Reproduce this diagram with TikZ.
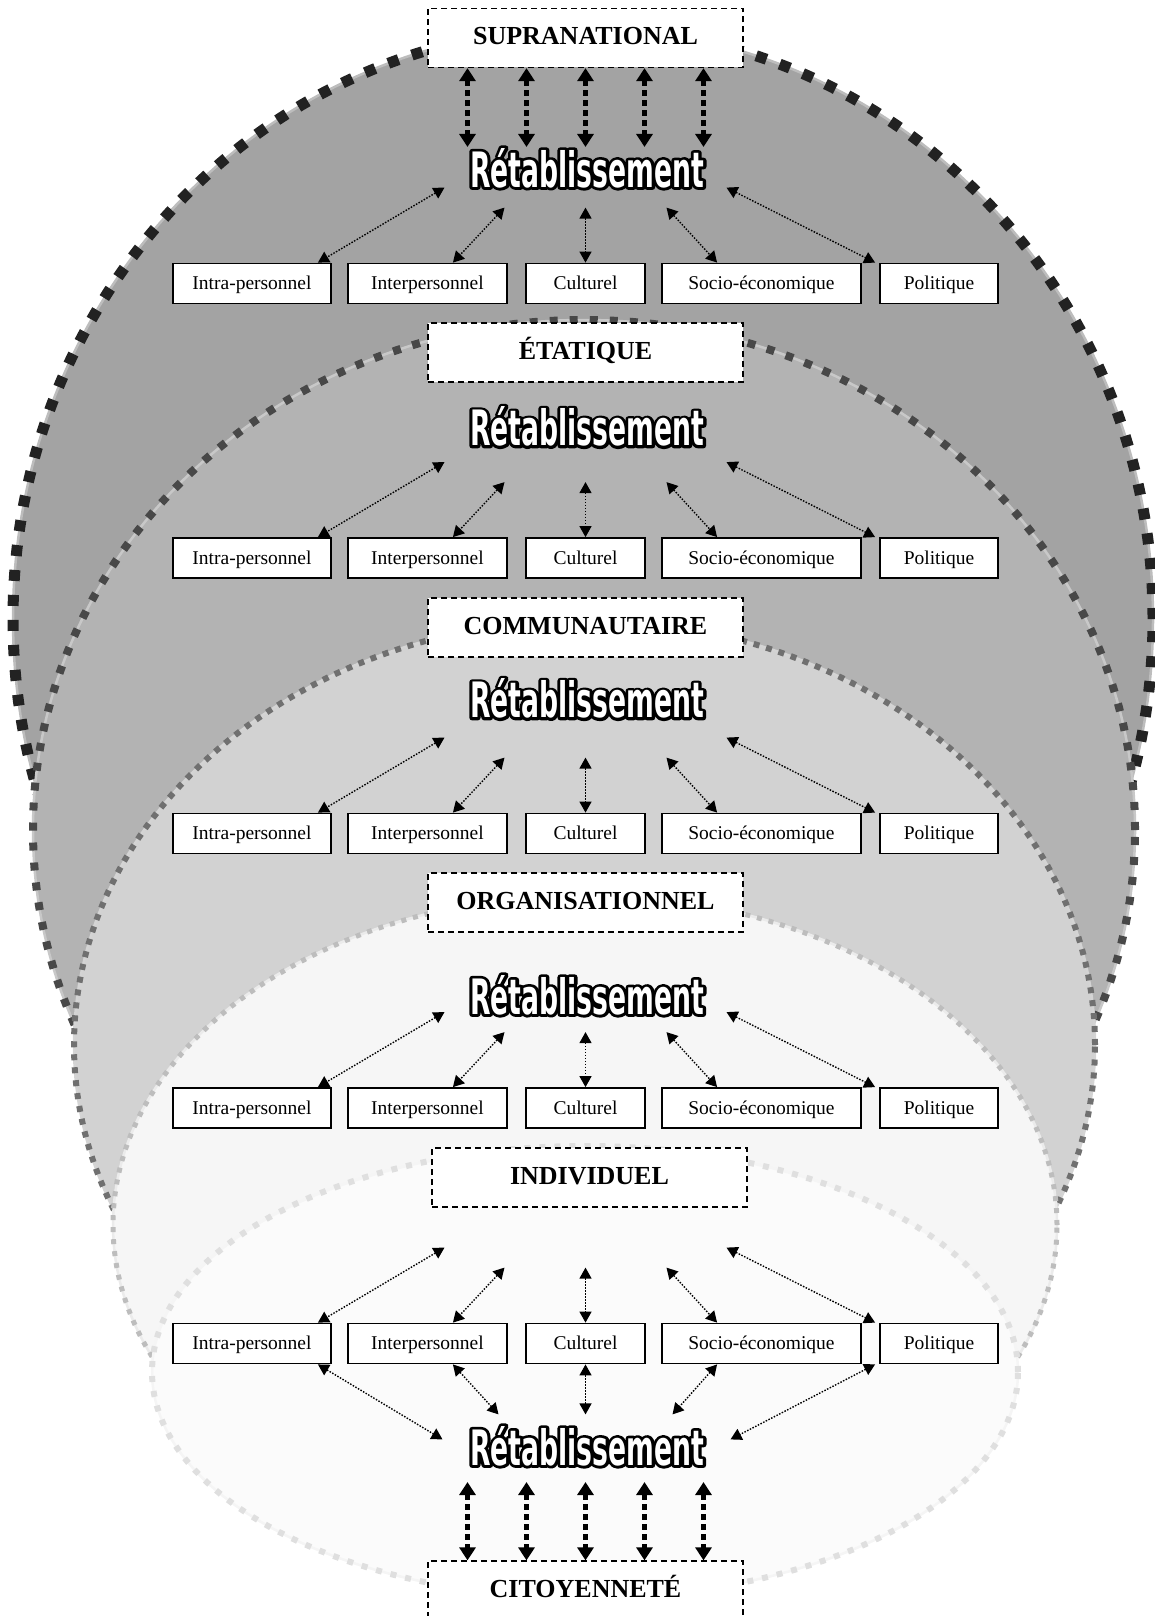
\documentclass[tikz,border=0pt]{standalone}
\usepackage{fontspec}
\setmainfont{Liberation Serif}
\newfontfamily\retfont{DejaVu Sans Condensed Bold}[FakeStretch=0.55]
\usetikzlibrary{arrows.meta}

\definecolor{shellA}{HTML}{A3A3A3}
\definecolor{shellB}{HTML}{B3B3B3}
\definecolor{shellC}{HTML}{D2D2D2}
\definecolor{shellD}{HTML}{F6F6F6}
\definecolor{shellE}{HTML}{FBFBFB}
\definecolor{edgeA}{HTML}{222222}
\definecolor{edgeB}{HTML}{484848}
\definecolor{edgeC}{HTML}{707070}
\definecolor{edgeD}{HTML}{BDBDBD}
\definecolor{edgeE}{HTML}{DFDFDF}

% white letters over a black outline
\newcommand{\retab}{\resizebox{234pt}{39pt}{\fontsize{52}{52}\retfont
  \rlap{\special{pdf:literal direct q 0 G 1 Tr 6 w 1 j}Rétablissement\special{pdf:literal direct Q}}%
  \textcolor{white}{Rétablissement}}}

\begin{document}
\begin{tikzpicture}[x=1pt,y=-1pt,
    level/.style={draw,fill=white,line width=1.8pt,minimum height=40pt,inner sep=0pt,
      text height=16pt,text depth=4pt,font=\fontsize{19.5}{22}\selectfont},
    layer/.style={draw,fill=white,line width=1.3pt,dash pattern=on 6pt off 4pt,
      minimum width=315pt,minimum height=59pt,text height=18pt,text depth=5pt,
      font=\fontsize{26}{30}\selectfont\bfseries},
    ret/.style={inner sep=1pt},
    link/.style={line width=1.4pt,dash pattern=on 1.5pt off 1.5pt,
      {Triangle[width=12pt,length=11pt]}-{Triangle[width=12pt,length=11pt]}},
    flow/.style={line width=4.5pt,dash pattern=on 6pt off 4pt,
      {Triangle[width=16pt,length=13pt]}-{Triangle[width=16pt,length=13pt]}}]
  \useasboundingbox (0,0) rectangle (1155,1616);
  \clip (0,0) rectangle (1155,1616);

  % nested shells, outermost first
  \foreach \cx/\cy/\rx/\ry/\fc/\dc/\w/\gap in {583/619/570/591/shellA/edgeA/11/14,
      584/830/551/510/shellB/edgeB/8/12, 584.5/1045/510.5/425/shellC/edgeC/6/7,
      585/1225/472/330/shellD/edgeD/5/7, 585/1372/433/226/shellE/edgeE/6/9}
  {
    \fill[\fc] (\cx,\cy) ellipse [x radius=\rx pt,y radius=\ry pt];
    \draw[\dc!30!white,line width=2.5pt] (\cx,\cy) ellipse [x radius=\rx pt,y radius=\ry pt];
    \draw[\dc,line width=\w pt,dash pattern=on \w pt off \gap pt] (\cx,\cy) ellipse [x radius=\rx pt,y radius=\ry pt];
  }

  \node[layer] (sup) at (585.5,38) {SUPRANATIONAL};
  \node[layer] (eta) at (585.5,352.5) {ÉTATIQUE};
  \node[layer] (com) at (585.5,627.5) {COMMUNAUTAIRE};
  \node[layer] (org) at (585.5,902.5) {ORGANISATIONNEL};
  \node[layer] (ind) at (589.5,1177.5) {INDIVIDUEL};
  \node[layer] (cit) at (585.5,1590.5) {CITOYENNETÉ};

  \node[ret] (ret1) at (587,168) {\retab};
  \node[ret] (ret2) at (587,426.5) {\retab};
  \node[ret] (ret3) at (587,698.5) {\retab};
  \node[ret] (ret4) at (587,995) {\retab};
  \node[ret] (ret5) at (587,1446) {\retab};

  % one row of dimensions per level
  \foreach \l/\ry in {1/283.5,2/558,3/833.5,4/1108,5/1343.5}
  {
    \node[level,minimum width=158pt] (intra\l) at (252,\ry) {Intra-personnel};
    \node[level,minimum width=159pt] (inter\l) at (427.5,\ry) {Interpersonnel};
    \node[level,minimum width=119pt] (cult\l) at (585.5,\ry) {Culturel};
    \node[level,minimum width=199pt] (socio\l) at (761.5,\ry) {Socio-économique};
    \node[level,minimum width=118pt] (pol\l) at (939,\ry) {Politique};
    \path (cult\l.north) ++(-141,-75) coordinate (ua\l) ++(60,20) coordinate (ub\l)
      ++(81,0) coordinate (uc\l) ++(81,0) coordinate (ud\l) ++(60,-20) coordinate (ue\l);
    \draw[link] (ua\l) -- ([xshift=-14pt]intra\l.north east);
    \draw[link] (ub\l) -- ([xshift=-55pt]inter\l.north east);
    \draw[link] (uc\l) -- (cult\l.north);
    \draw[link] (ud\l) -- ([xshift=56pt]socio\l.north west);
    \draw[link] (ue\l) -- ([xshift=-4pt]pol\l.north west);
  }

  % last level also feeds the lower Rétablissement
  \path (cult5.south) ++(-143,75) coordinate (la) ++(56,-25) coordinate (lb)
    ++(87,0) coordinate (lc) ++(87,0) coordinate (ld) ++(58,25) coordinate (le);
  \draw[link] ([xshift=-14pt]intra5.south east) -- (la);
  \draw[link] ([xshift=-55pt]inter5.south east) -- (lb);
  \draw[link] (cult5.south) -- (lc);
  \draw[link] ([xshift=56pt]socio5.south west) -- (ld);
  \draw[link] ([xshift=-4pt]pol5.south west) -- (le);

  \path (ret5.south) ++(0,15) coordinate (rb);
  \foreach \d in {-118,-59,0,59,118}
  {
    \path ([xshift=\d pt]sup.south) coordinate (fa) ([xshift=\d pt]cit.north) coordinate (fb);
    \draw[flow] (fa) -- (fa |- ret1.north);
    \draw[flow] (fb |- rb) -- (fb);
  }
\end{tikzpicture}
\end{document}
